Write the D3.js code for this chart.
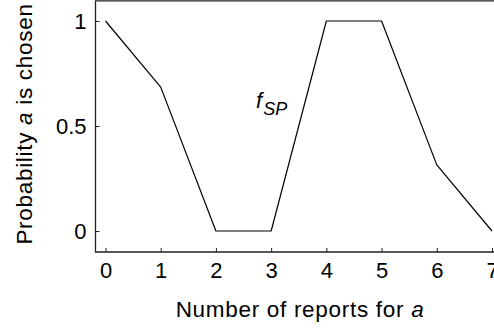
<!DOCTYPE html>
<html>
<head>
<meta charset="utf-8">
<script src="https://cdn.jsdelivr.net/npm/d3@7"></script>
<style>
  html, body { margin: 0; padding: 0; background: #fff; }
  svg { display: block; }
  text { font-family: "Liberation Sans", Arial, Helvetica, sans-serif; fill: #000; }
</style>
</head>
<body>
<svg id="chart" width="494" height="328"></svg>
<script>
// Number of reports for a, and probability that a is chosen (f_SP)
const reports = [0, 1, 2, 3, 4, 5, 6, 7];
const probability = [1, 0.685, 0, 0, 1, 1, 0.315, 0];
const xTicks = [0, 1, 2, 3, 4, 5, 6, 7];
const yTicks = [0, 0.5, 1];
const yTickLabels = ["0", "0.5", "1"];

const svg = d3.select("#chart");
const W = 494, H = 328;

// Frame edges (axes sit offset from the data region)
const frameLeft = 95.5, frameBottom = 252, frameTop = 0.8;

const x = d3.scaleLinear().domain([0, 7]).range([105.5, 492]);
const y = d3.scaleLinear().domain([0, 1]).range([231, 21]);

const axisColor = "#222";
const fontSize = 22;

// Left axis
const yAxis = d3.axisLeft(y)
  .tickValues(yTicks)
  .tickFormat((d, i) => yTickLabels[i])
  .tickSize(-4)
  .tickPadding(9);
const gy = svg.append("g")
  .attr("transform", `translate(${frameLeft},0)`)
  .call(yAxis);
gy.select(".domain").remove();
gy.selectAll(".tick line").attr("stroke", axisColor).attr("stroke-width", 1);
gy.selectAll(".tick text").style("font-size", fontSize + "px").attr("fill", "#000");

// Bottom axis
const xAxis = d3.axisBottom(x)
  .tickValues(xTicks)
  .tickFormat(d3.format("d"))
  .tickSize(-4)
  .tickPadding(10);
const gx = svg.append("g")
  .attr("transform", `translate(0,${frameBottom})`)
  .call(xAxis);
gx.select(".domain").remove();
gx.selectAll(".tick line").attr("stroke", axisColor).attr("stroke-width", 1);
gx.selectAll(".tick text").style("font-size", fontSize + "px").attr("fill", "#000");

// Frame lines: left, bottom, top
svg.append("path")
  .attr("d", `M${W + 2},${frameTop}H${frameLeft}V${frameBottom}H${W + 2}`)
  .attr("fill", "none")
  .attr("stroke", axisColor)
  .attr("stroke-width", 1.3);

// Data line
const line = d3.line()
  .x((d, i) => x(reports[i]))
  .y(d => y(d));
svg.append("path")
  .datum(probability)
  .attr("d", line)
  .attr("fill", "none")
  .attr("stroke", "#000")
  .attr("stroke-width", 1.2)
  .attr("stroke-linejoin", "round");

// Series label f_SP
const lab = svg.append("text")
  .attr("x", 256)
  .attr("y", 108)
  .style("font-size", "22px")
  .style("font-style", "italic");
lab.append("tspan").text("f");
lab.append("tspan").attr("dy", 7).attr("dx", 1).style("font-size", "18px").text("SP");

// Axis titles
const xt = svg.append("text")
  .attr("x", 300)
  .attr("y", 317)
  .attr("text-anchor", "middle")
  .style("font-size", "22.5px")
  .style("letter-spacing", "0.7px");
xt.append("tspan").text("Number of reports for ");
xt.append("tspan").style("font-style", "italic").text("a");

const yt = svg.append("text")
  .attr("transform", "translate(32,124) rotate(-90)")
  .attr("text-anchor", "middle")
  .style("font-size", "22.5px")
  .style("letter-spacing", "0.7px");
yt.append("tspan").text("Probability ");
yt.append("tspan").style("font-style", "italic").text("a");
yt.append("tspan").text(" is chosen");
</script>
</body>
</html>
